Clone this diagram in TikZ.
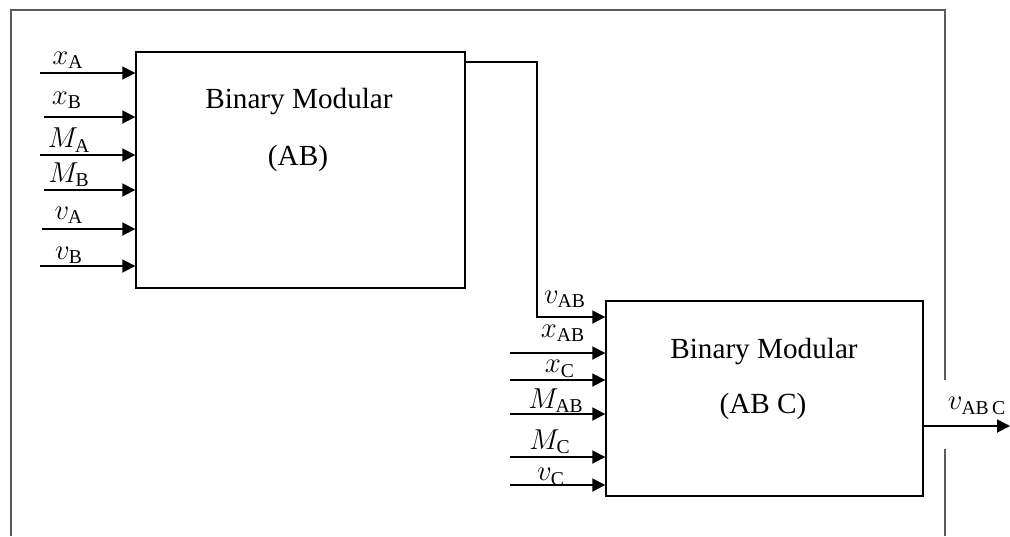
\documentclass[tikz,border=0pt]{standalone}
\usepackage{fontspec}
\setmainfont{Liberation Serif}
\usetikzlibrary{arrows.meta,positioning}
\definecolor{framegray}{HTML}{5A5A5A}

\begin{document}
\begin{tikzpicture}[
  x=0.5pt, y=-0.5pt,
  module/.style={
    draw=black, line width=0.7pt, inner sep=0pt
  },
  modtext/.style={font=\fontsize{14.6}{17}\selectfont},
  sig/.style={font=\fontsize{14}{16}\selectfont, inner sep=1pt},
  feed/.style={line width=0.9pt, -{Triangle[length=6.5pt, width=6.5pt]}}
]
\useasboundingbox (0,0) rectangle (1010,536);

% outer frame, open where the result leaves
\draw[framegray, line width=1pt] (11,536) -- (11,10) -- (945,10) -- (945,380);
\draw[framegray, line width=1pt] (945,449) -- (945,536);

% the two modules
\node[module, minimum width=164.5pt, minimum height=118pt] (boxAB) at (300.5,170) {};
\node[module, minimum width=158.5pt, minimum height=97.5pt] (boxABC) at (764.5,398.5) {};

\node[modtext] (titleAB) at (299,102) {Binary Modular};
\node[modtext] (nameAB) at (298,158) {(AB)};
\node[modtext] (titleABC) at (764,352) {Binary Modular};
\node[modtext] (nameABC) at (763,406) {(AB C)};

% inputs of the first module
\foreach \nm/\yy/\xs/\lx/\ly/\lab in {
  xA/73/40/68/60/x_{\mathrm{A}},
  xB/117/44/67/100/x_{\mathrm{B}},
  MA/155/40/69/140/M_{\mathrm{A}},
  MB/190/44/69/175/M_{\mathrm{B}},
  vA/229/42/69/215/v_{\mathrm{A}},
  vB/266/40/69/255/v_{\mathrm{B}}}
{
  \coordinate (in\nm) at (\xs,\yy);
  \draw[feed] (in\nm) -- (in\nm -| boxAB.west);
  \node[sig] (lab\nm) at (\lx,\ly) {$\lab$};
}

% v_AB carried over to the second module
\coordinate (turnTop) at (537,62);
\coordinate (turnLow) at (537,317);
\draw[feed] (boxAB.east |- turnTop) -- (turnTop) -- (turnLow) -- (turnLow -| boxABC.west);
\node[sig] (labvAB) at (565,299) {$v_{\mathrm{AB}}$};

% remaining inputs of the second module
\foreach \nm/\yy/\lx/\ly/\lab in {
  xAB/353/563/333/x_{\mathrm{AB}},
  xC/380/560/369/x_{\mathrm{C}},
  MAB/414/556/401/M_{\mathrm{AB}},
  MC/457/550/442/M_{\mathrm{C}},
  vC/485/551/477/v_{\mathrm{C}}}
{
  \coordinate (in\nm) at (510,\yy);
  \draw[feed] (in\nm) -- (in\nm -| boxABC.west);
  \node[sig] (lab\nm) at (\lx,\ly) {$\lab$};
}

% result
\coordinate (outABC) at (1010,426);
\draw[feed] (boxABC.east |- outABC) -- (outABC);
\node[sig] (labvABC) at (977,406) {$v_{\mathrm{AB\,C}}$};

\end{tikzpicture}
\end{document}
